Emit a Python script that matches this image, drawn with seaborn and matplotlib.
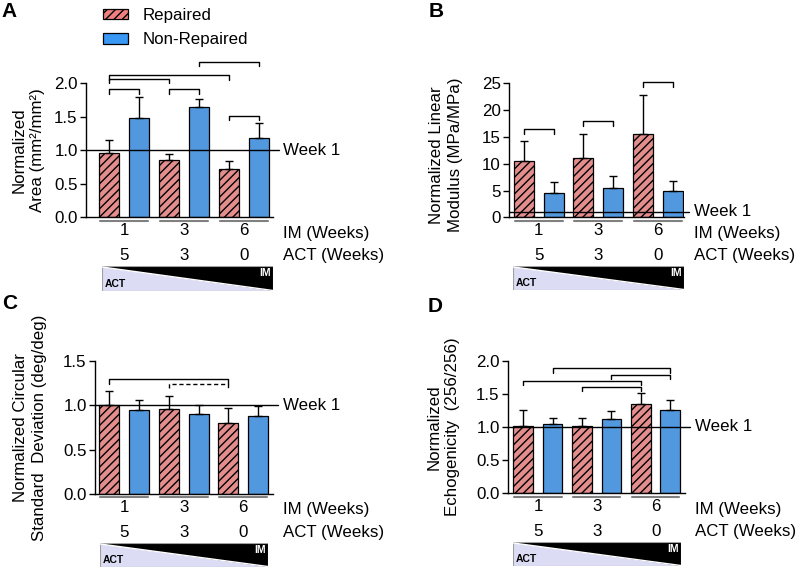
import numpy as np
import pandas as pd
import matplotlib
matplotlib.use("Agg")
import matplotlib.pyplot as plt
import matplotlib.transforms as mtransforms
from matplotlib.patches import Patch, Polygon, Rectangle
import seaborn as sns

# ---- data ----
im_weeks = ["1", "3", "6"]
act_weeks = ["5", "3", "0"]
groups = ["Repaired", "Non-Repaired"]

# A: normalized area
area_rep = [0.96, 0.85, 0.72]
area_rep_err = [0.20, 0.09, 0.12]
area_non = [1.48, 1.64, 1.18]
area_non_err = [0.31, 0.13, 0.23]

# B: normalized linear modulus
mod_rep = [10.5, 11.1, 15.5]
mod_rep_err = [3.8, 4.5, 7.4]
mod_non = [4.6, 5.5, 5.0]
mod_non_err = [1.9, 2.2, 1.8]

# C: normalized circular standard deviation
csd_rep = [1.00, 0.96, 0.80]
csd_rep_err = [0.16, 0.15, 0.17]
csd_non = [0.95, 0.90, 0.88]
csd_non_err = [0.11, 0.10, 0.11]

# D: normalized echogenicity
echo_rep = [1.02, 1.02, 1.34]
echo_rep_err = [0.23, 0.12, 0.17]
echo_non = [1.05, 1.12, 1.26]
echo_non_err = [0.08, 0.12, 0.14]

# significance brackets: (bar i, bar j, height, style); bars 0..5 = R1,N1,R3,N3,R6,N6
area_brackets = [(0, 1, 1.915, "-"), (2, 3, 1.915, "-"), (4, 5, 1.517, "-"),
                 (0, 2, 2.07, "-"), (0, 4, 2.12, "-"), (3, 5, 2.32, "-")]
mod_brackets = [(0, 1, 16.4, "-"), (2, 3, 17.9, "-"), (4, 5, 25.2, "-")]
csd_brackets = [(0, 4, 1.293, "-"), (2, 4, 1.245, (0, (3, 2)))]
echo_brackets = [(0, 4, 1.70, "-"), (2, 4, 1.61, "-"),
                 (1, 5, 1.885, "-"), (3, 5, 1.79, "-")]

red = "#F27F7F"
blue = "#3A98F5"
lavender = "#DCDCF5"
FS = 12.2

sns.set_style("ticks")
plt.rcParams["font.family"] = ["Liberation Sans", "DejaVu Sans"]
plt.rcParams["text.color"] = "black"
plt.rcParams["axes.labelcolor"] = "black"
plt.rcParams["xtick.color"] = "black"
plt.rcParams["ytick.color"] = "black"
plt.rcParams["hatch.linewidth"] = 1.0
plt.rcParams["hatch.color"] = "#2a1515"

fig = plt.figure(figsize=(8, 5.68), dpi=100)
W, H = 800, 568


def px_axes(left, right, top, bottom):
    return fig.add_axes([left / W, 1 - bottom / H, (right - left) / W, (bottom - top) / H])


def draw_panel(ax, rep, rep_err, non, non_err, ymax, yticks, fmt, xlim,
               ylabel, label_x, label_y, brackets):
    df = pd.DataFrame({
        "im": im_weeks * 2,
        "group": [groups[0]] * 3 + [groups[1]] * 3,
        "value": rep + non,
    })
    sns.barplot(data=df, x="im", y="value", hue="group", order=im_weeks,
                hue_order=groups, palette=[red, blue], errorbar=None,
                width=1.0, gap=0.333, edgecolor="black", linewidth=0.9,
                legend=False, ax=ax)
    bars = sorted(ax.patches, key=lambda p: p.get_x())
    centers = [p.get_x() + p.get_width() / 2 for p in bars]
    heights = [p.get_height() for p in bars]
    errs = [e for pair in zip(rep_err, non_err) for e in pair]
    for i, p in enumerate(bars):
        if i % 2 == 0:
            p.set_hatch("////")
    ax.errorbar(centers, heights, yerr=[np.zeros(len(errs)), errs], fmt="none",
                ecolor="black", elinewidth=1, capsize=3, capthick=1, zorder=3)

    ax.set_xlim(*xlim)
    ax.set_ylim(0, ymax)
    ax.set_yticks(yticks)
    ax.set_yticklabels([fmt.format(t) for t in yticks], fontsize=FS)
    ax.set_xlabel("")
    ax.set_ylabel(ylabel, fontsize=FS, linespacing=1.3)
    ax.yaxis.set_label_coords(label_x, label_y)
    ax.tick_params(axis="y", length=4, width=1, pad=2)
    ax.tick_params(axis="x", length=0, pad=4, labelsize=FS)
    for s in ["top", "right"]:
        ax.spines[s].set_visible(False)
    for s in ["left", "bottom"]:
        ax.spines[s].set_color("black")
        ax.spines[s].set_linewidth(1)

    # week 1 reference line
    tr = mtransforms.blended_transform_factory(ax.transAxes, ax.transData)
    ax.plot([0, 1.03], [1, 1], color="black", lw=1, transform=tr,
            clip_on=False, zorder=5)
    ax.annotate("Week 1", xy=(1, 1), xycoords=("axes fraction", "data"),
                xytext=(7, 0), textcoords="offset points", ha="left",
                va="center", fontsize=FS)

    # group underlines + second label row
    trx = ax.get_xaxis_transform()
    for k in range(len(im_weeks)):
        ax.plot([k - 0.4, k + 0.4], [-0.025, -0.025], color="#808080", lw=1.5,
                transform=trx, clip_on=False)
        ax.annotate(act_weeks[k], xy=(k, 0), xycoords=("data", "axes fraction"),
                    xytext=(0, -27.4), textcoords="offset points", ha="center",
                    va="center", fontsize=FS)
    ax.annotate("IM (Weeks)", xy=(1, 0), xycoords="axes fraction",
                xytext=(7, -11.5), textcoords="offset points", ha="left",
                va="center", fontsize=FS)
    ax.annotate("ACT (Weeks)", xy=(1, 0), xycoords="axes fraction",
                xytext=(7, -27.4), textcoords="offset points", ha="left",
                va="center", fontsize=FS)

    # significance brackets
    drop = 0.034 * ymax
    for i, j, y, ls in brackets:
        ax.plot([centers[i], centers[i], centers[j], centers[j]],
                [y - drop, y, y, y - drop], color="black", lw=1, ls=ls,
                clip_on=False)


def draw_gradient(left, right, top, bottom):
    gx = px_axes(left, right, top, bottom)
    gx.set_xlim(0, 1)
    gx.set_ylim(0, 1)
    gx.axis("off")
    gx.add_patch(Polygon([(0, 0), (0, 0.96), (1, 0.02), (1, 0)], closed=True,
                         facecolor=lavender, edgecolor="none"))
    gx.add_patch(Polygon([(0, 0.96), (0, 1), (1, 1), (1, 0.02)], closed=True,
                         facecolor="black", edgecolor="none"))
    gx.plot([0, 1], [0.96, 0.02], color="white", lw=1)
    gx.add_patch(Rectangle((0, 0), 1, 1, fill=False, edgecolor="#a0a0a0", lw=0.8))
    gx.text(0.015, 0.08, "ACT", fontsize=7.5, fontweight="bold", ha="left",
            va="bottom", color="black")
    gx.text(0.985, 0.92, "IM", fontsize=7.5, fontweight="bold", ha="right",
            va="top", color="white")


axA = px_axes(86, 273, 83.3, 217.3)
draw_panel(axA, area_rep, area_rep_err, area_non, area_non_err, 2.0,
           [0, 0.5, 1.0, 1.5, 2.0], "{:.1f}", (-0.633, 2.483),
           "Normalized\nArea (mm\u00b2/mm\u00b2)", -0.22, 0.5, area_brackets)

axB = px_axes(509, 684, 83.3, 217.3)
draw_panel(axB, mod_rep, mod_rep_err, mod_non, mod_non_err, 25,
           [0, 5, 10, 15, 20, 25], "{:.0f}", (-0.5, 2.44),
           "Normalized Linear\nModulus (MPa/MPa)", -0.265, 0.465, mod_brackets)

axC = px_axes(95, 273, 361, 494)
draw_panel(axC, csd_rep, csd_rep_err, csd_non, csd_non_err, 1.5,
           [0, 0.5, 1.0, 1.5], "{:.1f}", (-0.49, 2.5),
           "Normalized Circular\nStandard  Deviation (deg/deg)", -0.27, 0.5,
           csd_brackets)

axD = px_axes(508, 685, 360.7, 493.3)
draw_panel(axD, echo_rep, echo_rep_err, echo_non, echo_non_err, 2.0,
           [0, 0.5, 1.0, 1.5, 2.0], "{:.1f}", (-0.51, 2.5),
           "Normalized\nEchogenicity  (256/256)", -0.27, 0.5, echo_brackets)

draw_gradient(102, 273, 266, 291)
draw_gradient(513, 684, 266, 290)
draw_gradient(100, 268, 543, 567)
draw_gradient(513, 681, 542, 566)

# panel letters
for letter, x, y in [("A", 1, 2), ("B", 429, 2), ("C", 2, 294), ("D", 428, 297)]:
    fig.text(x / W, 1 - y / H, letter, fontsize=15, fontweight="bold",
             ha="left", va="top")

# legend
handles = [Patch(facecolor=red, edgecolor="black", hatch="////", lw=0.9),
           Patch(facecolor=blue, edgecolor="black", lw=0.9)]
fig.legend(handles=handles, labels=groups, loc="upper left",
           bbox_to_anchor=(103 / W, 1 - 8 / H), frameon=False, fontsize=FS,
           borderpad=0, borderaxespad=0, handlelength=1.5, handleheight=0.6,
           handletextpad=0.85, labelspacing=0.55)

fig.savefig("out.png", dpi=100)
